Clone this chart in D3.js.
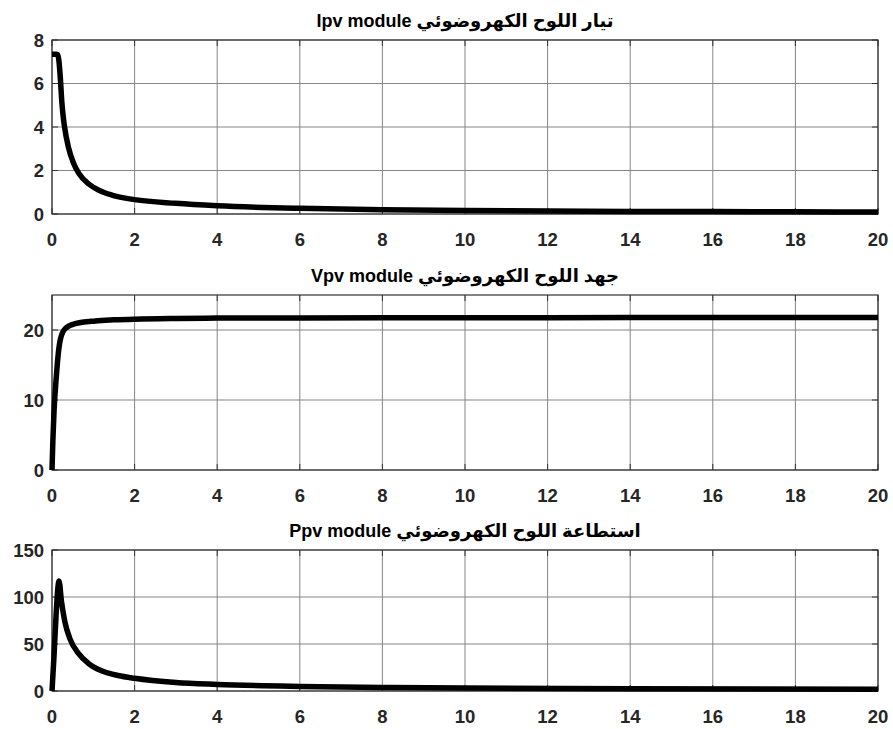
<!DOCTYPE html>
<html>
<head>
<meta charset="utf-8">
<script src="https://cdn.jsdelivr.net/npm/d3@7"></script>
<style>
  body { margin: 0; background: #fff; }
  text { font-family: "Liberation Sans", Arial, "DejaVu Sans", sans-serif; font-weight: bold; }
</style>
</head>
<body>
<svg id="chart" width="893" height="729"></svg>
<script>
// data
const timeI = [0, 0.05, 0.1, 0.14, 0.17, 0.2, 0.24, 0.27, 0.3, 0.4, 0.52, 0.65, 0.89, 1.13, 1.45, 2, 3, 4, 6, 8, 10, 12, 14, 16, 18, 20];
const currentI = [7.35, 7.35, 7.35, 7.33, 7.0, 6.3, 5.1, 4.5, 4.05, 3.05, 2.35, 1.87, 1.38, 1.1, 0.87, 0.66, 0.49, 0.38, 0.26, 0.2, 0.16, 0.14, 0.12, 0.11, 0.1, 0.09];

const timeV = [0, 0.02, 0.05, 0.1, 0.12, 0.15, 0.2, 0.32, 0.56, 1.05, 1.5, 2, 3, 4, 6, 10, 14, 20];
const voltageV = [0, 4, 8.5, 13, 14.5, 16.5, 18.6, 20.2, 20.9, 21.3, 21.45, 21.55, 21.65, 21.7, 21.72, 21.75, 21.78, 21.8];

const timeP = [0, 0.05, 0.1, 0.17, 0.23, 0.31, 0.43, 0.64, 0.88, 1.2, 1.6, 2, 3, 4, 6, 8, 10, 14, 20];
const powerP = [0, 38, 82, 117, 95, 74, 56, 40, 29.5, 21.5, 16.5, 13.5, 9, 7, 4.9, 3.8, 3.1, 2.4, 1.9];

const xTicks = [0, 2, 4, 6, 8, 10, 12, 14, 16, 18, 20];
const iTicks = [0, 2, 4, 6, 8];
const vTicks = [0, 10, 20];
const pTicks = [0, 50, 100, 150];

const titles = [
  "Ipv module تيار اللوح الكهروضوئي",
  "Vpv module جهد اللوح الكهروضوئي",
  "Ppv module استطاعة اللوح الكهروضوئي"
];

const svg = d3.select("#chart");
const left = 52, right = 878;

const panels = [
  { top: 40,  bottom: 214, ymax: 8,   ticks: iTicks, t: timeI, y: currentI, title: titles[0] },
  { top: 295, bottom: 470, ymax: 25,  ticks: vTicks, t: timeV, y: voltageV, title: titles[1] },
  { top: 550, bottom: 691, ymax: 150, ticks: pTicks, t: timeP, y: powerP,   title: titles[2] }
];

const xScale = d3.scaleLinear().domain([0, 20]).range([left, right]);

panels.forEach(p => {
  const yScale = d3.scaleLinear().domain([0, p.ymax]).range([p.bottom, p.top]);
  const g = svg.append("g");

  // grid
  g.selectAll(".vgrid").data(xTicks).enter().append("line")
    .attr("x1", d => xScale(d)).attr("x2", d => xScale(d))
    .attr("y1", p.top).attr("y2", p.bottom)
    .attr("stroke", "#858585").attr("stroke-width", 1);
  g.selectAll(".hgrid").data(p.ticks).enter().append("line")
    .attr("x1", left).attr("x2", right)
    .attr("y1", d => yScale(d)).attr("y2", d => yScale(d))
    .attr("stroke", "#858585").attr("stroke-width", 1);

  // inward ticks
  g.selectAll(".xt").data(xTicks).enter().append("path")
    .attr("d", d => `M${xScale(d)},${p.bottom}v-6M${xScale(d)},${p.top}v6`)
    .attr("stroke", "#333").attr("stroke-width", 1);
  g.selectAll(".yt").data(p.ticks).enter().append("path")
    .attr("d", d => `M${left},${yScale(d)}h6M${right},${yScale(d)}h-6`)
    .attr("stroke", "#333").attr("stroke-width", 1);

  // box
  g.append("rect")
    .attr("x", left).attr("y", p.top)
    .attr("width", right - left).attr("height", p.bottom - p.top)
    .attr("fill", "none").attr("stroke", "#333").attr("stroke-width", 1.2);

  // tick labels
  g.selectAll(".xl").data(xTicks).enter().append("text")
    .attr("x", d => xScale(d)).attr("y", p.bottom + 32)
    .attr("text-anchor", "middle").attr("font-size", 18.5).attr("fill", "#262626")
    .text(d => d);
  g.selectAll(".yl").data(p.ticks).enter().append("text")
    .attr("x", left - 8).attr("y", d => yScale(d))
    .attr("dy", "0.36em")
    .attr("text-anchor", "end").attr("font-size", 18.5).attr("fill", "#262626")
    .text(d => d);

  // curve
  const line = d3.line()
    .x((d, i) => xScale(p.t[i]))
    .y(d => yScale(d))
    .curve(d3.curveMonotoneX);
  g.append("path")
    .datum(p.y)
    .attr("d", line)
    .attr("fill", "none").attr("stroke", "#000")
    .attr("stroke-width", 5.5).attr("stroke-linejoin", "round");

  // title
  g.append("text")
    .attr("x", (left + right) / 2).attr("y", p.top - 13)
    .attr("text-anchor", "middle").attr("font-size", 18).attr("fill", "#000")
    .text(p.title);
});
</script>
</body>
</html>
